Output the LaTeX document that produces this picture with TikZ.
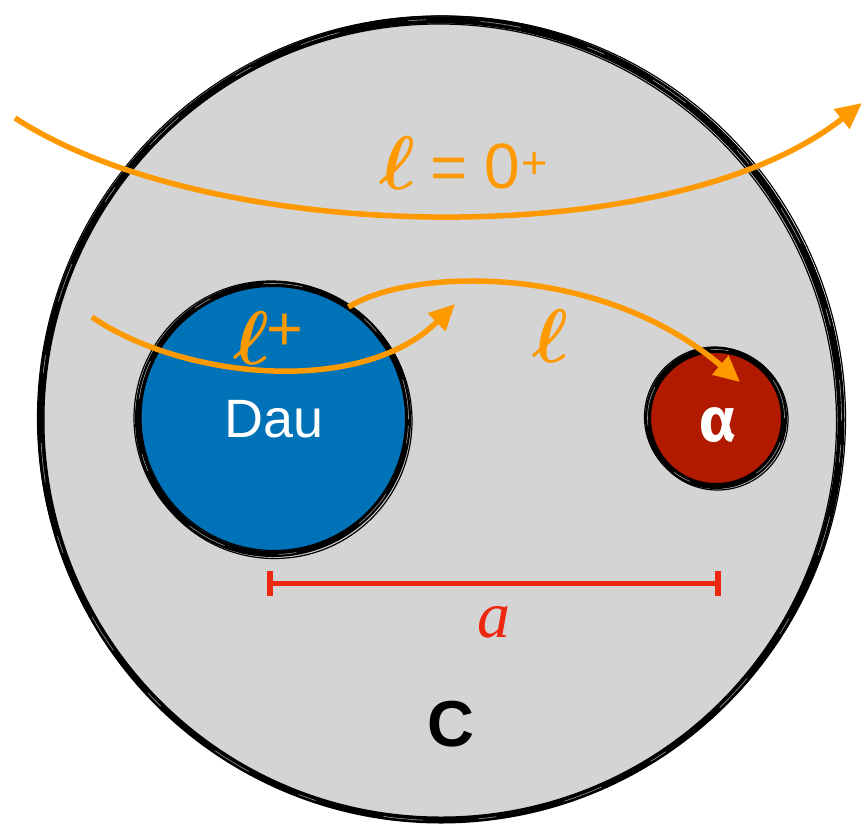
\documentclass[tikz,border=0pt]{standalone}
\usepackage{bm}
\usepackage{fontspec}
\setmainfont{Liberation Sans}
\newfontfamily\serifit{Liberation Serif}
\newfontfamily\greekfont{Fira Sans}
\usetikzlibrary{arrows.meta,calc}
\definecolor{bgrey}{RGB}{212,212,212}
\definecolor{dblue}{RGB}{0,114,183}
\definecolor{dred}{RGB}{178,26,0}
\definecolor{orng}{RGB}{255,153,0}
\definecolor{rred}{RGB}{238,40,16}
\begin{document}
\begin{tikzpicture}[x=1pt,y=-1pt,
  disk/.style={circle, draw=black, line width=6pt, inner sep=0pt, outer sep=0pt},
  orarrow/.style={draw=orng, line width=5.5pt, -{Triangle[length=26pt,width=24pt]}},
  lbl/.style={inner sep=0pt, outer sep=0pt},
  skthin/.style={draw=black, line width=1.2pt},
  skstreak/.style={draw=white!60!black, line width=0.6pt, dash pattern=on 40pt off 55pt on 18pt off 70pt}]
\useasboundingbox (0,0) rectangle (862,823);

% big cell
\node[disk, fill=bgrey, line width=7pt, minimum size=800pt] (C) at (441,420) {};
\draw[skthin] ($(C.center)+(2,-1.5)$) circle[radius=402.5pt];
\draw[skthin] ($(C.center)+(-2,1.5)$) circle[radius=397.5pt];
\draw[skthin] ($(C.center)+(-1.5,-2)$) circle[radius=402pt];
\draw[skstreak] (C.center) circle[radius=400.5pt];

% Dau
\node[disk, fill=dblue, minimum size=270pt] (dau) at (273,419) {};
\draw[skthin] ($(dau.center)+(1.5,2)$) circle[radius=137.5pt];
\draw[skthin] ($(dau.center)+(-2,-1)$) circle[radius=137pt];
\draw[skthin] ($(dau.center)+(1,-1.5)$) circle[radius=133pt];
\draw[skstreak] (dau.center) circle[radius=135.5pt];

% alpha
\node[disk, fill=dred, minimum size=136pt] (alp) at (716,418) {};
\draw[skthin] ($(alp.center)+(1.5,1.5)$) circle[radius=70.5pt];
\draw[skthin] ($(alp.center)+(-1.5,-1)$) circle[radius=70pt];
\draw[skstreak] (alp.center) circle[radius=68.5pt];

% texts in disks
\node[lbl, anchor=base, text=white, font=\fontsize{54}{60}\selectfont] (dautxt) at (274,437) {Dau};
\node[lbl, anchor=base, text=white, font=\greekfont\bfseries\fontsize{62}{62}\selectfont] (alptxt) at (718,441) {α};
\node[lbl, anchor=base, font=\bfseries\fontsize{65}{65}\selectfont] (ctxt) at (451,746) {C};

% distance bar
\coordinate (b1) at (270,583.5);
\coordinate (b2) at (718,583.5);
\draw[rred, line width=5pt] (b1) -- (b2);
\draw[rred, line width=6pt] ($(b1)+(0,-12.5)$) -- ($(b1)+(0,12.5)$);
\draw[rred, line width=6pt] ($(b2)+(0,-12.5)$) -- ($(b2)+(0,12.5)$);
\node[lbl, anchor=base, text=rred, font=\serifit\itshape\fontsize{66}{66}\selectfont] (atxt) at (494,637) {a};

% orange trajectories
\coordinate (s1) at (15,118);
\coordinate (e1) at (862,103);
\draw[orarrow] (s1) .. controls (210,245) and (670,255) .. (e1);

\coordinate (s2) at (92,317);
\coordinate (e2) at (455,304);
\draw[orarrow] (s2) .. controls (180,378) and (360,398) .. (e2);

\coordinate (s3) at (dau.56);
\coordinate (e3) at (740,382);
\draw[orarrow] (s3) .. controls (410,268) and (600,262) .. (e3);

% orange labels
\node[lbl, anchor=base, text=orng, scale=7.6] (l0) at (397,189) {$\bm{\ell}$};
\node[lbl, anchor=base, text=orng, font=\fontsize{64}{64}\selectfont] (eq) at (449.5,189) {=};
\node[lbl, anchor=base, text=orng, font=\fontsize{64}{64}\selectfont] (zero) at (502.5,188) {0};
\node[lbl, anchor=base, text=orng, font=\fontsize{45}{45}\selectfont] (zplus) at (534.5,178) {+};

\node[lbl, anchor=base, text=orng, scale=7.6] (lp) at (251,364) {$\bm{\ell}$};
\node[lbl, anchor=base, text=orng, font=\fontsize{63}{63}\selectfont] (lpplus) at (285,350) {+};

\node[lbl, anchor=base, text=orng, scale=7.6] (lm) at (550,362) {$\bm{\ell}$};
\end{tikzpicture}
\end{document}
